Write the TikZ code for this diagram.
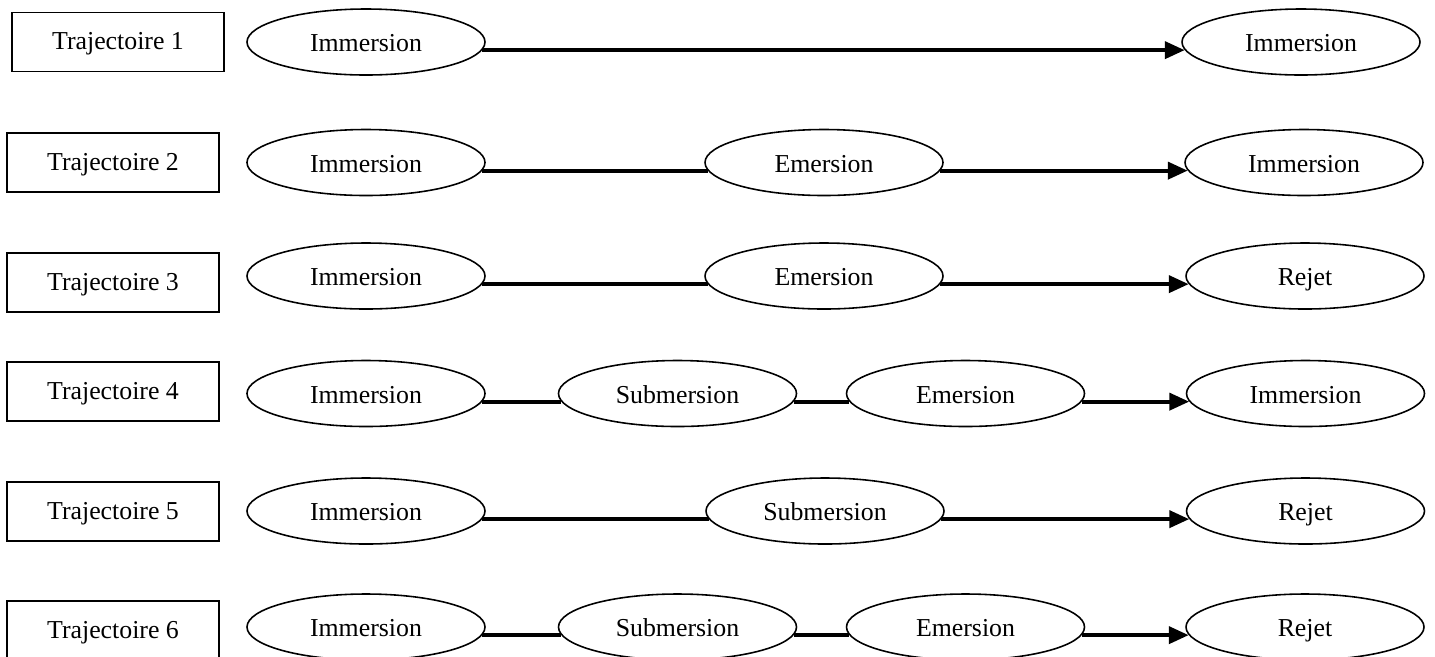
\documentclass[tikz,border=0pt]{standalone}
\usepackage{fontspec}
\setmainfont{Liberation Serif}
\usetikzlibrary{shapes.geometric,arrows.meta}
\tikzset{
  traj/.style={draw,line width=1.1pt,minimum width=4.24cm,minimum height=1.18cm,inner sep=0pt,text height=9pt,text depth=0pt,font=\fontsize{14.7}{17}\selectfont},
  etape/.style={draw,ellipse,line width=0.9pt,minimum width=4.76cm,minimum height=1.32cm,inner sep=0pt,text height=11.2pt,text depth=0pt,font=\fontsize{14.7}{17}\selectfont},
  lien/.style={line width=2.3pt},
  fleche/.style={line width=2.3pt,-{Triangle[length=0.4cm,width=0.34cm]}}
}
\begin{document}
\begin{tikzpicture}
\useasboundingbox (0,0) rectangle (28.7,-13.12);
%row 1
\node[traj] (t1) at (2.36,-0.84) {Trajectoire 1};
\node[etape] (a1) at (7.32,-0.84) {Immersion};
\node[etape] (d1) at (26.02,-0.84) {Immersion};
\draw[fleche] (a1.-4.5)--(d1.184.5);
%row 2
\node[traj] (t2) at (2.26,-3.25) {Trajectoire 2};
\node[etape] (a2) at (7.32,-3.25) {Immersion};
\node[etape] (b2) at (16.48,-3.25) {Emersion};
\node[etape] (d2) at (26.08,-3.25) {Immersion};
\draw[lien] (a2.-4.5)--(b2.184.5);
\draw[fleche] (b2.-4.5)--(d2.184.5);
%row 3
\node[traj] (t3) at (2.26,-5.65) {Trajectoire 3};
\node[etape] (a3) at (7.32,-5.52) {Immersion};
\node[etape] (b3) at (16.48,-5.52) {Emersion};
\node[etape] (d3) at (26.1,-5.52) {Rejet};
\draw[lien] (a3.-4.5)--(b3.184.5);
\draw[fleche] (b3.-4.5)--(d3.184.5);
%row 4
\node[traj] (t4) at (2.26,-7.83) {Trajectoire 4};
\node[etape] (a4) at (7.32,-7.87) {Immersion};
\node[etape] (b4) at (13.55,-7.87) {Submersion};
\node[etape] (c4) at (19.31,-7.87) {Emersion};
\node[etape] (d4) at (26.11,-7.87) {Immersion};
\draw[lien] (a4.-4.5)--(b4.184.5);
\draw[lien] (b4.-4.5)--(c4.184.5);
\draw[fleche] (c4.-4.5)--(d4.184.5);
%row 5
\node[traj] (t5) at (2.26,-10.23) {Trajectoire 5};
\node[etape] (a5) at (7.32,-10.22) {Immersion};
\node[etape] (b5) at (16.5,-10.22) {Submersion};
\node[etape] (d5) at (26.11,-10.22) {Rejet};
\draw[lien] (a5.-4.5)--(b5.184.5);
\draw[fleche] (b5.-4.5)--(d5.184.5);
%row 6
\node[traj] (t6) at (2.26,-12.61) {Trajectoire 6};
\node[etape] (a6) at (7.32,-12.54) {Immersion};
\node[etape] (b6) at (13.55,-12.54) {Submersion};
\node[etape] (c6) at (19.31,-12.54) {Emersion};
\node[etape] (d6) at (26.1,-12.54) {Rejet};
\draw[lien] (a6.-4.5)--(b6.184.5);
\draw[lien] (b6.-4.5)--(c6.184.5);
\draw[fleche] (c6.-4.5)--(d6.184.5);
\end{tikzpicture}
\end{document}
